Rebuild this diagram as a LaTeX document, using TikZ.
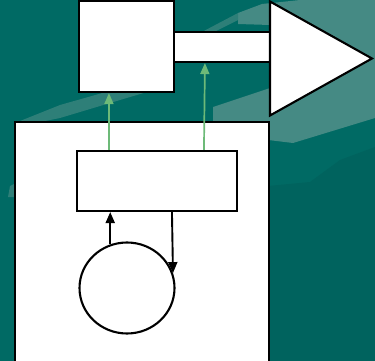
\documentclass[tikz,border=0pt]{standalone}
\usetikzlibrary{arrows.meta,shapes.geometric,calc}
\definecolor{teal0}{HTML}{006A64}
\definecolor{tealdark}{HTML}{00635E}
\definecolor{teallight}{HTML}{458A84}
\definecolor{tealband}{HTML}{2E7F78}
\definecolor{garrowc}{HTML}{6DBA78}
\tikzset{
  box/.style={draw=black,fill=white,line width=2.1pt,inner sep=0pt,minimum width=#1},
  ell/.style={draw=black,fill=white,line width=2.1pt,ellipse,inner sep=0pt},
  garrow/.style={draw=garrowc,line width=1.7pt,-{Triangle[length=11pt,width=9pt]}},
  barrow/.style={draw=black,line width=1.9pt,-{Triangle[length=11pt,width=9pt]}},
}
\begin{document}
\begin{tikzpicture}[x=1pt,y=-1pt]
\useasboundingbox (0,0) rectangle (375,361);
\clip (0,0) rectangle (375,361);
% background
\fill[teal0] (0,0) rectangle (375,361);
\fill[tealdark] (268,186) -- (310,182) -- (340,160) -- (375,147) -- (375,361) -- (268,361) -- cycle;
\fill[teallight] (238,13) -- (262,4) -- (300,0) -- (375,0) -- (375,118) -- (293,143) -- (260,139) -- (213,125) -- (213,107) -- (270,88) -- (270,25) -- (238,24) -- cycle;
\fill[tealband] (20,121) -- (60,105) -- (120,88) -- (174,74) -- (174,84) -- (120,100) -- (60,118) -- (45,121) -- cycle;
\fill[tealband] (200,33) -- (238,13) -- (238,20) -- (212,33) -- cycle;
\fill[tealband] (8,197) -- (10,186) -- (14,184) -- (14,197) -- cycle;
% shapes
\node[box=95pt,minimum height=91pt] (topsq) at (126.5,46.5) {};
\node[box=96pt,minimum height=30pt] (bar) at (222,47) {};
\coordinate (tl) at (270,1.5);
\coordinate (tb) at (270,115.5);
\coordinate (tt) at (372,58.5);
\draw[fill=white,line width=2.1pt,line join=miter] (tl) -- (tt) -- (tb) -- cycle;
\node[box=254pt,minimum height=260pt,anchor=north west] (big) at (14,121) {};
\node[box=160pt,minimum height=60pt] (inner) at (157,181) {};
\node[ell,minimum width=95pt,minimum height=91pt] (circ) at (127,288) {};
% connectors
\draw[garrow] ([xshift=33pt]inner.north west) -- ([xshift=33pt]inner.north west |- topsq.south);
\draw[garrow] ([xshift=128pt]inner.north west) -- ([xshift=32pt]bar.south west);
\draw[barrow] (circ.111) -- (circ.111 |- inner.south);
\draw[barrow] ([xshift=96pt]inner.south west) -- (circ.18);
\end{tikzpicture}
\end{document}
